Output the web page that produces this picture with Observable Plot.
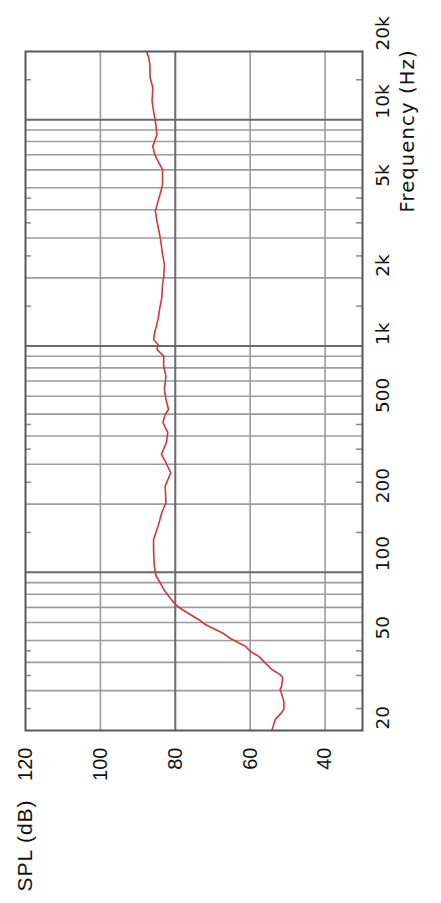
<!DOCTYPE html>
<html>
<head>
<meta charset="utf-8">
<script src="https://cdn.jsdelivr.net/npm/d3@7"></script>
<script src="https://cdn.jsdelivr.net/npm/@observablehq/plot@0.6"></script>
<style>
html, body { margin: 0; padding: 0; background: #fff; overflow: hidden; width: 441px; height: 903px; }
#wrap { position: absolute; left: 0; top: 0; width: 903px; height: 441px; transform-origin: 0 0; transform: translate(0px, 903px) rotate(-90deg); }
</style>
</head>
<body>
<div id="wrap"></div>
<script>
// Frequency response (Hz) and SPL (dB)
const freq = [20, 22.4, 24.0, 24.8, 26.9, 29.4, 30.3, 31.4, 34.3, 35.3, 37.2, 39.2, 42.6, 44.8, 47.1, 48.8, 51.0, 54.1, 55.9, 58.8, 61.9, 65.1, 68.5, 72.1, 78.5, 84.0, 89.9, 96.1, 106.4, 126, 139.7, 159.9, 183.3, 202.8, 240.2, 275.3, 305, 332, 373.5, 414, 458, 498, 524, 580, 643, 736, 815, 902, 965, 1015, 1069, 1143, 1310, 1450, 1634, 1870, 2002, 2292, 2538, 3007, 3562, 3945, 4365, 4835, 5175, 6025, 6450, 7020, 7640, 8035, 8605, 9525, 10910, 12080, 13840, 15320, 17540, 18800, 20000];
const spl = [54.2, 53.3, 51.6, 51.0, 51.0, 51.7, 52.0, 51.6, 51.3, 52.0, 54.2, 55.6, 57.8, 60.0, 61.3, 63.1, 65.3, 67.5, 69.3, 72.0, 73.8, 76.0, 78.2, 80.0, 81.8, 83.1, 84.0, 85.1, 85.6, 85.8, 85.8, 84.6, 83.6, 82.5, 82.7, 81.2, 82.5, 83.7, 82.4, 82.0, 83.3, 82.7, 81.8, 82.5, 82.9, 82.5, 83.1, 83.1, 84.9, 84.6, 85.8, 85.5, 84.6, 84.2, 83.6, 83.4, 83.1, 82.9, 83.4, 84.0, 84.9, 85.3, 84.6, 83.8, 83.4, 83.4, 84.4, 85.5, 86.0, 85.5, 84.9, 85.2, 85.8, 86.2, 86.0, 86.7, 86.8, 87.1, 87.7];

const freqDomain = [20, 20000];
const splDomain = [30, 120];
const freqGridMinor = [30, 40, 50, 60, 70, 80, 90, 200, 300, 400, 500, 600, 700, 800, 900, 2000, 3000, 4000, 5000, 6000, 7000, 8000, 9000];
const freqGridMajor = [100, 1000, 10000];
const freqMinorTicks = [25, 35, 45, 150, 250, 350, 450, 1500, 2500, 3500, 4500, 15000];
const freqLabelValues = [20, 50, 100, 200, 500, 1000, 2000, 5000, 10000, 20000];
const freqLabels = ["20", "50", "100", "200", "500", "1k", "2k", "5k", "10k", "20k"];
const splGridMinor = [100, 60, 40];
const splGridMajor = [80];
const splLabelValues = [120, 100, 80, 60, 40];
const yTitle = "SPL (dB)";
const xTitle = "Frequency (Hz)";

const data = freq.map((f, i) => ({f, s: spl[i]}));
const freqLabelData = freqLabelValues.map((v, i) => ({v, t: freqLabels[i]}));

const lightGrid = "#9c9c9c";
const darkGrid = "#6a6a6a";
const frameColor = "#585858";

const chart = Plot.plot({
  width: 903,
  height: 441,
  marginLeft: 172,
  marginRight: 52,
  marginTop: 25,
  marginBottom: 79,
  style: {maxWidth: "none", background: "#fff"},
  x: {type: "log", domain: freqDomain, axis: null},
  y: {domain: splDomain, axis: null},
  marks: [
    Plot.ruleX(freqGridMinor, {x: d => d, stroke: lightGrid, strokeWidth: 1.6}),
    Plot.ruleY(splGridMinor, {y: d => d, stroke: lightGrid, strokeWidth: 1.6}),
    Plot.ruleX(freqGridMajor, {x: d => d, stroke: darkGrid, strokeWidth: 2}),
    Plot.ruleY(splGridMajor, {y: d => d, stroke: darkGrid, strokeWidth: 2}),
    Plot.tickX(freqMinorTicks, {x: d => d, insetTop: 331, stroke: "#8a8a8a", strokeWidth: 1.5}),
    Plot.tickX(freqMinorTicks, {x: d => d, insetBottom: 331, stroke: "#8a8a8a", strokeWidth: 1.5}),
    Plot.line(data, {x: "f", y: "s", stroke: "#d2373a", strokeWidth: 1.6, curve: "linear"}),
    Plot.frame({stroke: frameColor, strokeWidth: 2}),
    Plot.text(freqLabelData, {x: "v", text: "t", frameAnchor: "bottom", textAnchor: "start", lineAnchor: "top", dx: 1, dy: 13, fontSize: 18.5, fontFamily: "DejaVu Sans", fill: "#111"}),
    Plot.text(splLabelValues, {y: d => d, text: d => String(d), frameAnchor: "left", textAnchor: "end", lineAnchor: "middle", dx: -17, fontSize: 20, fontFamily: "Liberation Sans", fill: "#111"}),
    Plot.text([yTitle], {text: d => d, frameAnchor: "top-left", textAnchor: "start", lineAnchor: "middle", dx: -161, fontSize: 21, fontFamily: "Liberation Sans", fill: "#111"}),
    Plot.text([xTitle], {text: d => d, frameAnchor: "bottom-right", textAnchor: "start", lineAnchor: "top", dx: -161, dy: 38, fontSize: 19.5, fontFamily: "DejaVu Sans", fill: "#111"})
  ]
});
// stretch the two titles to the lengths seen in the reference
d3.select(chart).selectAll("text").each(function () {
  const t = this.textContent;
  if (t === yTitle) { this.setAttribute("textLength", 91); this.setAttribute("lengthAdjust", "spacing"); }
  if (t === xTitle) { this.setAttribute("textLength", 162); this.setAttribute("lengthAdjust", "spacing"); }
});
document.getElementById("wrap").appendChild(chart);
</script>
</body>
</html>
